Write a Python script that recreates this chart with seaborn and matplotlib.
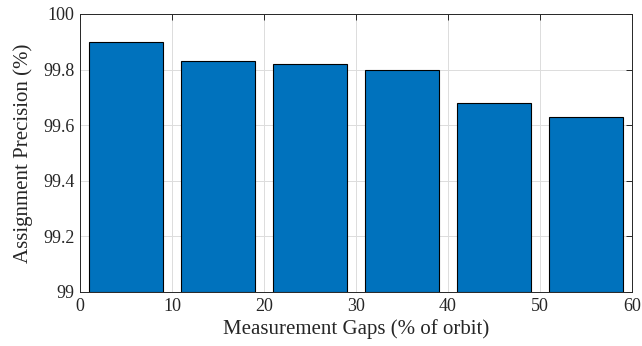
import matplotlib
matplotlib.use("Agg")
import matplotlib.pyplot as plt
import numpy as np
import pandas as pd
import seaborn as sns

# Data
gaps = [5, 15, 25, 35, 45, 55]
precision = [99.90, 99.83, 99.82, 99.80, 99.68, 99.63]
y_ticks = [99, 99.2, 99.4, 99.6, 99.8, 100]
y_tick_labels = ["99", "99.2", "99.4", "99.6", "99.8", "100"]
x_ticks = [0, 10, 20, 30, 40, 50, 60]

sns.set_style("white")
plt.rcParams["font.family"] = ["Liberation Serif", "DejaVu Serif"]

df = pd.DataFrame({"gap": gaps, "precision": precision})

fig = plt.figure(figsize=(6.42, 3.46), dpi=100)
ax = fig.add_axes([80 / 642, 1 - 292 / 346, 552 / 642, 278 / 346])

sns.barplot(
    data=df, x="gap", y="precision", native_scale=True, width=0.8,
    color="#0072BD", saturation=1, edgecolor="black", linewidth=0.8, ax=ax,
)
# bars need a baseline at 99, not 0
for patch in ax.patches:
    h = patch.get_height()
    patch.set_y(99)
    patch.set_height(h - 99)

ax.set_xlim(0, 60)
ax.set_ylim(99, 100)
ax.set_xticks(x_ticks)
ax.set_yticks(y_ticks)
ax.set_yticklabels(y_tick_labels)
ax.grid(True, color="#dcdcdc", linewidth=0.7)
ax.set_axisbelow(True)
ax.tick_params(direction="in", length=4, width=0.7, top=True, right=True,
               labelsize=13, colors="#262626", pad=4)
for s in ax.spines.values():
    s.set_visible(True)
    s.set_color("#262626")
    s.set_linewidth(0.7)

ax.set_xlabel("Measurement Gaps (% of orbit)", fontsize=15, color="#262626", labelpad=3)
ax.set_ylabel("Assignment Precision (%)", fontsize=15, color="#262626", labelpad=7)

fig.savefig("out.png", dpi=100)
